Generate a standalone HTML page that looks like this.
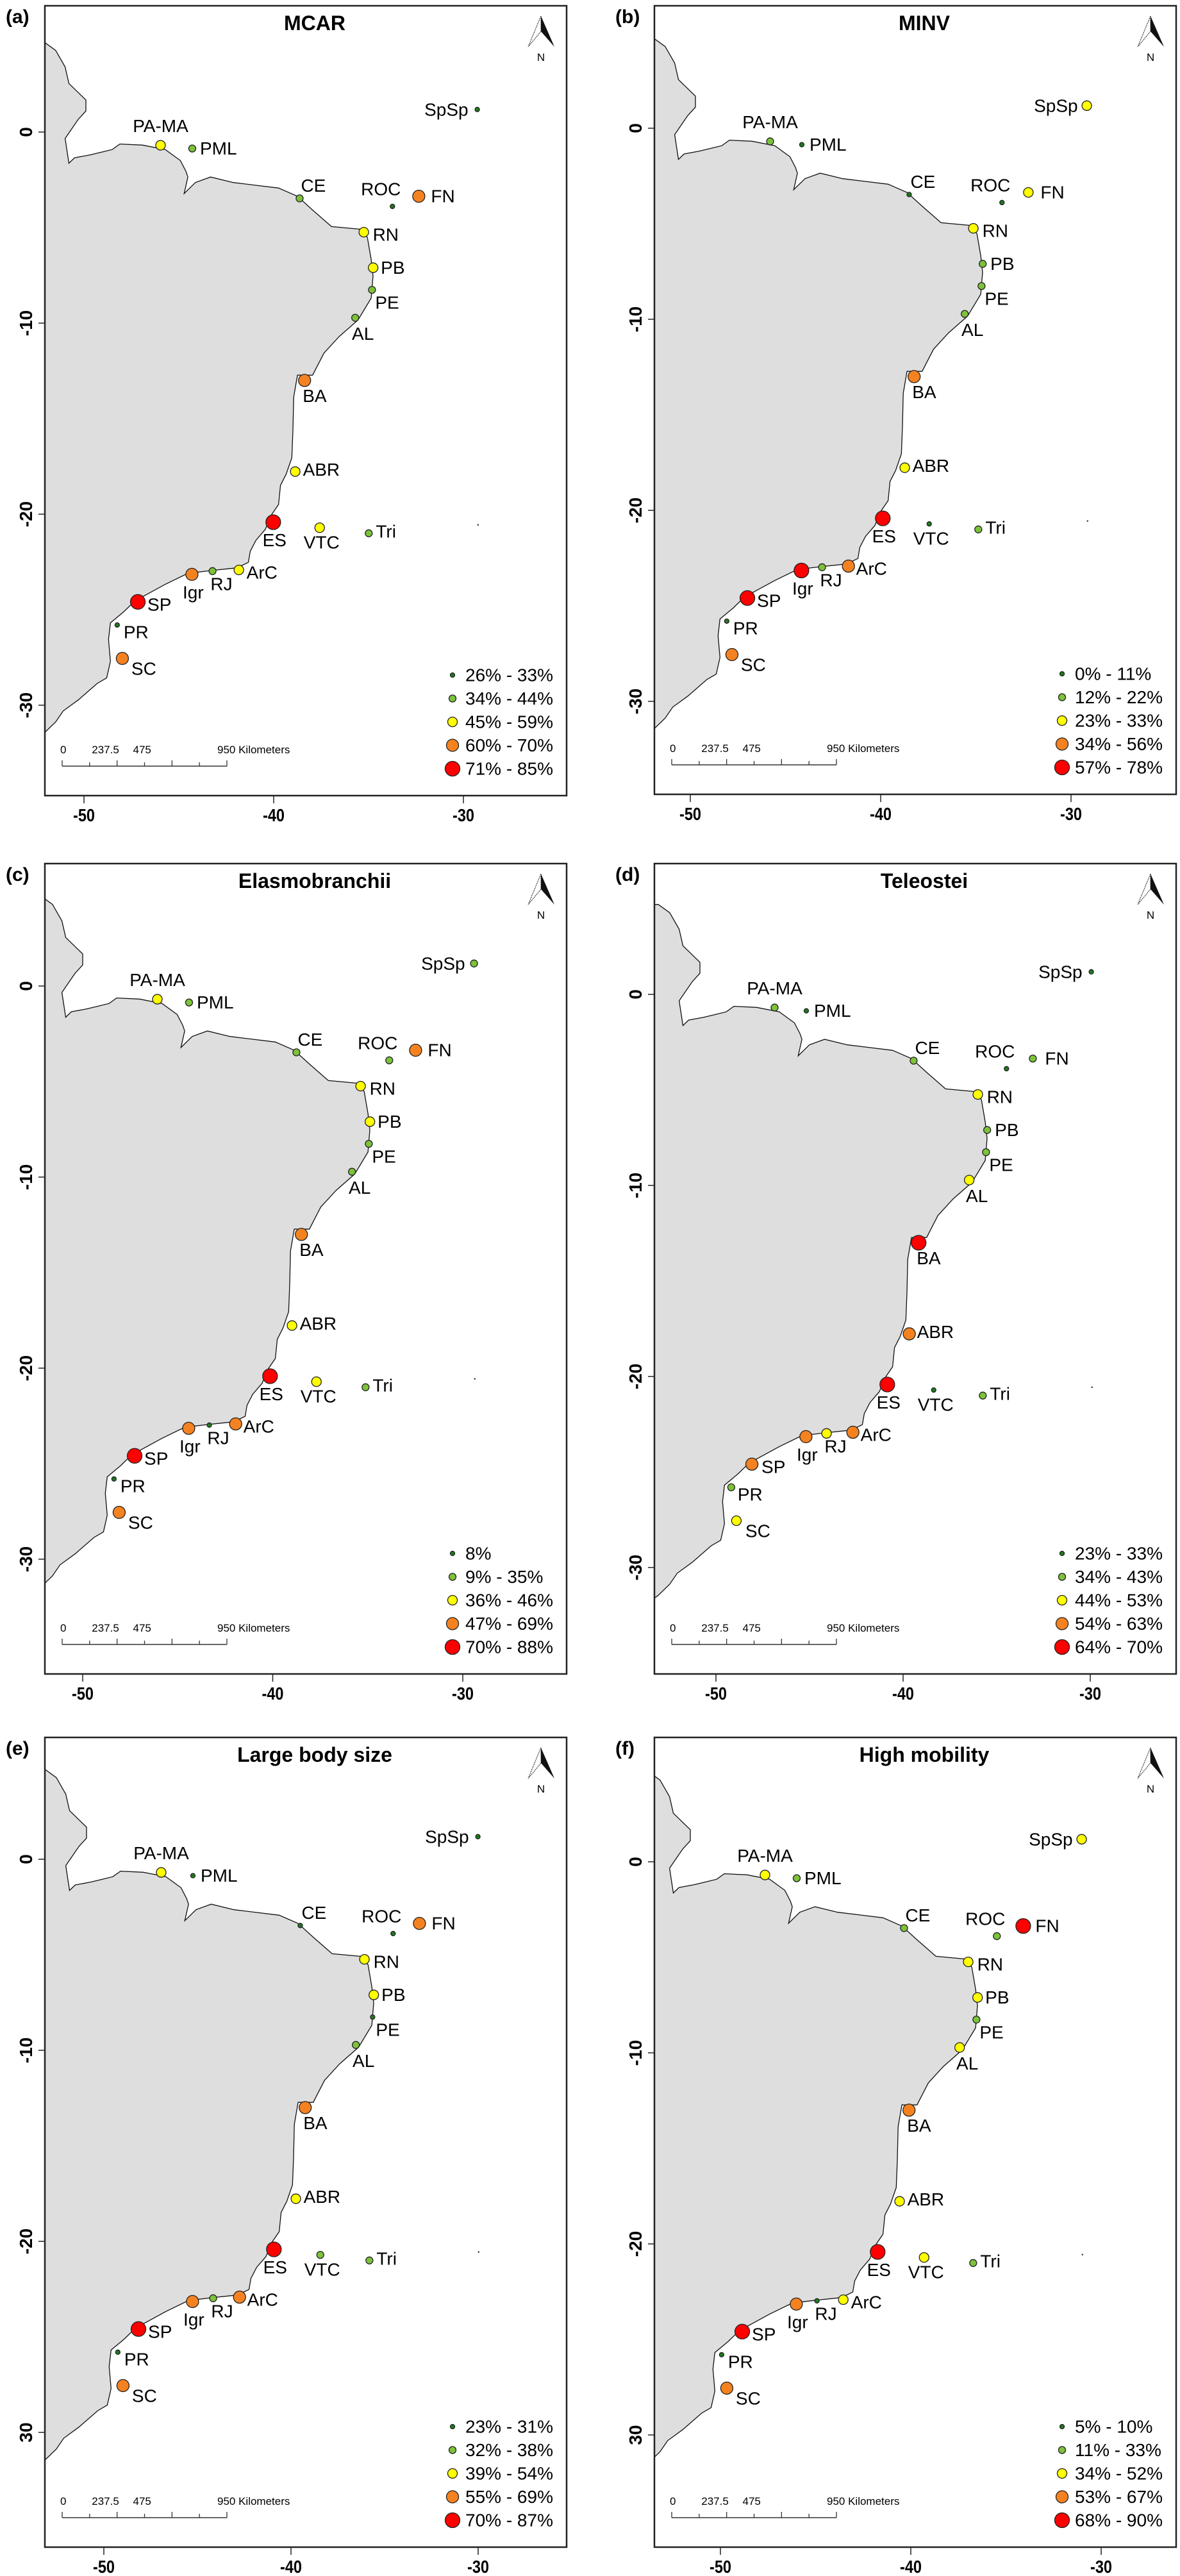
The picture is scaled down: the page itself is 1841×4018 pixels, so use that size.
<!DOCTYPE html>
<html><head><meta charset="utf-8"><title>Coastal maps</title>
<style>html,body{margin:0;padding:0;background:#fff}svg{display:block}text{font-family:"Liberation Sans",Arial,sans-serif}</style>
</head><body>
<svg id="fig" xmlns="http://www.w3.org/2000/svg" width="1841" height="4018" viewBox="0 0 1841 4018"></svg>
<script>
const sites = ["PA-MA","PML","CE","ROC","FN","RN","PB","PE","AL","BA","ABR","ES","VTC","Tri","ArC","RJ","Igr","SP","PR","SC","SpSp"];
const siteLon = [-45.99,-44.33,-38.71,-33.85,-32.47,-35.35,-34.86,-34.92,-35.80,-38.45,-38.94,-40.09,-37.66,-35.09,-41.89,-43.27,-44.35,-47.18,-48.26,-47.99,-29.41];
const siteLat = [-0.69,-0.86,-3.47,-3.89,-3.36,-5.24,-7.10,-8.26,-9.72,-13.00,-17.77,-20.42,-20.71,-21.00,-22.92,-22.98,-23.15,-24.59,-25.80,-27.55,1.18];
const classA = [3,2,2,1,4,3,3,2,2,4,3,5,3,2,3,2,4,5,1,4,1];
const classB = [2,1,1,1,3,3,2,2,2,4,3,5,1,2,4,2,5,5,1,4,3];
const classC = [3,2,2,2,4,3,3,2,2,4,3,5,3,2,4,1,4,5,1,4,2];
const classD = [2,1,2,1,2,3,2,2,3,5,4,5,1,2,4,3,4,4,2,3,1];
const classE = [3,1,1,1,4,3,3,1,2,4,3,5,2,2,4,2,4,5,1,4,1];
const classF = [3,2,2,2,5,3,3,2,3,4,3,5,3,2,3,1,4,5,1,4,3];
const legendA = ["26% - 33%","34% - 44%","45% - 59%","60% - 70%","71% - 85%"];
const legendB = ["0% - 11%","12% - 22%","23% - 33%","34% - 56%","57% - 78%"];
const legendC = ["8%","9% - 35%","36% - 46%","47% - 69%","70% - 88%"];
const legendD = ["23% - 33%","34% - 43%","44% - 53%","54% - 63%","64% - 70%"];
const legendE = ["23% - 31%","32% - 38%","39% - 54%","55% - 69%","70% - 87%"];
const legendF = ["5% - 10%","11% - 33%","34% - 52%","53% - 67%","68% - 90%"];
const xTicks = [-50,-40,-30];
const yTicks = [0,-10,-20,-30];
const yTickLabelsStd = ["0","-10","-20","-30"];
const yTickLabelsAlt = ["0","-10","-20","30"];

const NS="http://www.w3.org/2000/svg";
const svg=document.getElementById('fig');
function mk(tag,attrs,parent){const e=document.createElementNS(NS,tag);for(const k in attrs)e.setAttribute(k,attrs[k]);(parent||svg).appendChild(e);return e;}
const colors=["","#1f7a1f","#7cc23a","#ffff00","#f58220","#ff0000"];
const radii=[0,3.5,5.5,7.5,9.5,11.5];
// label offsets [dx,dy,anchor]
const lab=[[0,-30,"middle"],[12,0,"start"],[2,-20,"start"],[-18,-27,"middle"],[19,0,"start"],[14,4,"start"],[12,0,"start"],[5,20,"start"],[12,25,"middle"],[-3,24,"start"],[12,-3,"start"],[2,28,"middle"],[3,23,"middle"],[11,-3,"start"],[12,4,"start"],[14,20,"middle"],[2,28,"middle"],[15,4,"start"],[10,11,"start"],[14,16,"start"],[-14,0,"end"]];
// coastline shape (reference-zoom coords of panel a) -> lon/lat
const coastZ=[[60,75],[120,75],[150,90],[175,120],[185,150],[215,170],[230,180],[230,200],[210,215],[190,235],[175,250],[185,295],[200,285],[240,280],[270,275],[300,270],[320,260],[380,262],[440,270],[470,285],[480,290],[495,310],[500,320],[490,350],[520,330],[560,320],[620,330],[680,335],[740,340],[790,355],[830,380],[880,410],[960,415],[975,430],[985,470],[990,500],[985,540],[950,580],[900,610],[860,640],[830,680],[790,680],[780,720],[778,780],[775,830],[760,860],[745,880],[740,915],[720,935],[705,960],[680,980],[665,1000],[660,1020],[630,1030],[560,1035],[500,1040],[440,1060],[400,1075],[360,1090],[330,1110],[295,1130],[290,1160],[295,1200],[285,1230],[260,1240],[210,1270],[170,1290],[150,1310],[120,1330],[60,1360]];
const coast=coastZ.map(p=>[-50+(p[0]/1.685-133.5)/30,(206-p[1]/1.157)/30]);

const panels=[
 {id:"a",title:"MCAR",L:70,T:9,W:814,H:1232,mx:131,my:206,tx:131,ts:29.6,cls:classA,leg:legendA,yl:yTickLabelsStd},
 {id:"b",title:"MINV",L:1021,T:9,W:814,H:1230,mx:1082,my:200,tx:1077,ts:29.7,cls:classB,leg:legendB,yl:yTickLabelsStd},
 {id:"c",title:"Elasmobranchii",L:70,T:1347,W:814,H:1264,mx:126,my:1538,tx:129,ts:29.65,cls:classC,leg:legendC,yl:yTickLabelsStd},
 {id:"d",title:"Teleostei",L:1021,T:1347,W:814,H:1264,mx:1089,my:1551,tx:1117,ts:29.2,cls:classD,leg:legendD,yl:yTickLabelsStd},
 {id:"e",title:"Large body size",L:70,T:2710,W:814,H:1263,mx:132,my:2900,tx:162,ts:29.2,cls:classE,leg:legendE,yl:yTickLabelsAlt},
 {id:"f",title:"High mobility",L:1021,T:2710,W:814,H:1263,mx:1074,my:2904,tx:1124,ts:29.7,cls:classF,leg:legendF,yl:yTickLabelsAlt}
];
const S=29.8;
panels.forEach(p=>{
 const g=mk('g',{});
 
 
 const X=lon=>p.mx+(lon+50)*S, Y=lat=>p.my-lat*S;
 const cp=mk('clipPath',{id:'clip'+p.id},g);
 mk('rect',{x:p.L,y:p.T,width:p.W,height:p.H},cp);
 const land=mk('path',{d:'M'+coast.map(c=>X(c[0]).toFixed(1)+','+Y(c[1]).toFixed(1)).join('L')+'Z',fill:'#dedede',stroke:'#111','stroke-width':1.3,'clip-path':'url(#clip'+p.id+')'},g);
 
 
 const fr=mk('rect',{x:p.L,y:p.T,width:p.W,height:p.H,fill:'none',stroke:'#222','stroke-width':2.5},g);
 
 
 const pl=mk('text',{x:p.L-61,y:p.T+27,'font-size':30,'font-weight':'bold'},g);pl.textContent='('+p.id+')';
 
 
 const tt=mk('text',{x:p.L+421,y:p.T+38,'font-size':32,'font-weight':'bold','text-anchor':'middle'},g);tt.textContent=p.title;
 
 
 // north arrow
 const ax=p.L+p.W-40, ay=p.T+16;
 const na=mk('g',{},g);
 
 
 mk('path',{d:`M${ax},${ay}L${ax-20},${ay+48}L${ax},${ay+24}Z`,fill:'#fff',stroke:'#222','stroke-width':1,'stroke-dasharray':'2,1'},na);
 mk('path',{d:`M${ax},${ay}L${ax+21},${ay+48}L${ax},${ay+24}Z`,fill:'#111'},na);
 const nt=mk('text',{x:ax,y:ay+70,'font-size':17,'text-anchor':'middle'},na);nt.textContent='N';
 // x ticks
 xTicks.forEach(v=>{const x=p.tx+(v+50)*p.ts;
  mk('line',{x1:x,y1:p.T+p.H,x2:x,y2:p.T+p.H+12,stroke:'#222','stroke-width':1.5},g);
  const t=mk('text',{x:x,y:p.T+p.H+40,'font-size':28,'font-weight':'bold','text-anchor':'middle',textLength:34,lengthAdjust:'spacingAndGlyphs'},g);t.textContent=String(v);
  
  
 });
 yTicks.forEach((v,i)=>{const y=Y(v);
  mk('line',{x1:p.L,y1:y,x2:p.L-10,y2:y,stroke:'#222','stroke-width':1.5},g);
  const t=mk('text',{x:0,y:0,'font-size':28,'font-weight':'bold','text-anchor':'middle',transform:`translate(${p.L-20},${y}) rotate(-90)`},g);t.textContent=p.yl[i];
  
  
 });
 // small mark
 mk('circle',{cx:X(-29.37),cy:Y(-20.56),r:1.2,fill:'#222'},g);
 // sites
 sites.forEach((s,i)=>{const c=p.cls[i];const cx=X(siteLon[i]),cy=Y(siteLat[i]);
  const d=mk('circle',{cx:cx,cy:cy,r:radii[c],fill:colors[c],stroke:'#222','stroke-width':1.3},g);
  
  
  const t=mk('text',{x:cx+lab[i][0],y:cy+lab[i][1],'font-size':28,'text-anchor':lab[i][2],'dominant-baseline':'central'},g);t.textContent=s;
  
  
 });
 // legend
 const B=p.T+p.H;
 p.leg.forEach((l,i)=>{const y=B-188+i*36.5;
  const d=mk('circle',{cx:p.L+636,cy:y,r:radii[i+1],fill:colors[i+1],stroke:'#222','stroke-width':1.3},g);
  
  
  const t=mk('text',{x:p.L+656,y:y,'font-size':28,'dominant-baseline':'central'},g);t.textContent=l;
  
  
 });
 // scale bar
 const sb=mk('g',{},g);
 
 
 const x0=p.L+27,x1=p.L+284,sy=B-46;
 mk('line',{x1:x0,y1:sy,x2:x1,y2:sy,stroke:'#333','stroke-width':1.5},sb);
 for(let k=0;k<=6;k++){const x=x0+(x1-x0)*k/6;mk('line',{x1:x,y1:sy,x2:x,y2:sy-(k%2===0?9:6),stroke:'#333','stroke-width':1.3},sb);}
 [["0",0],["237.5",1/4],["475",1/2],["950 Kilometers",1]].forEach(a=>{const t=mk('text',{x:x0+(x1-x0)*a[1]-(a[1]===0?3:(a[1]===1?15:18)),y:B-66,'font-size':17},sb);t.textContent=a[0];});
});
</script>
</body></html>
